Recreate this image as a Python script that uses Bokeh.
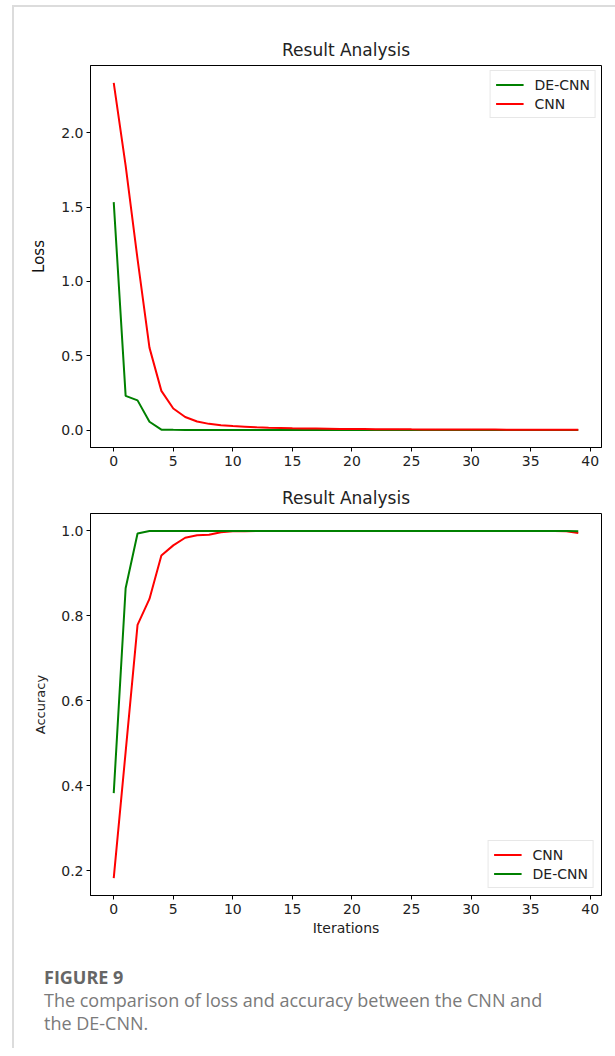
from bokeh.plotting import figure
from bokeh.layouts import column
from bokeh.models import Range1d, FixedTicker, PrintfTickFormatter, Legend, LegendItem, Div
from bokeh.embed import file_html
from bokeh.resources import INLINE

iterations = list(range(40))

cnn_loss = [2.336, 1.78, 1.15, 0.555, 0.264, 0.145, 0.088, 0.058, 0.042, 0.033,
            0.027, 0.023, 0.019, 0.016, 0.014, 0.012, 0.011, 0.010, 0.009, 0.008,
            0.0075, 0.007, 0.0065, 0.006, 0.0055, 0.005, 0.0048, 0.0045, 0.0043, 0.004,
            0.0038, 0.0036, 0.0034, 0.0032, 0.003, 0.0029, 0.0028, 0.0027, 0.0026, 0.0025]
decnn_loss = [1.534, 0.23, 0.20, 0.056, 0.003, 0.002, 0.0015, 0.0012, 0.001, 0.0009,
              0.0008, 0.0007, 0.0007, 0.0006, 0.0006, 0.0005, 0.0005, 0.0005, 0.0004, 0.0004,
              0.0004, 0.0004, 0.0003, 0.0003, 0.0003, 0.0003, 0.0003, 0.0003, 0.0002, 0.0002,
              0.0002, 0.0002, 0.0002, 0.0002, 0.0002, 0.0002, 0.0002, 0.0002, 0.0002, 0.0002]

cnn_acc = [0.183, 0.48, 0.779, 0.84, 0.942, 0.966, 0.984, 0.990, 0.991, 0.997,
           0.999, 0.999, 1.0, 1.0, 1.0, 1.0, 1.0, 1.0, 1.0, 1.0,
           1.0, 1.0, 1.0, 1.0, 1.0, 1.0, 1.0, 1.0, 1.0, 1.0,
           1.0, 1.0, 1.0, 1.0, 1.0, 1.0, 1.0, 1.0, 0.999, 0.995]
decnn_acc = [0.383, 0.865, 0.994, 1.0, 1.0, 1.0, 1.0, 1.0, 1.0, 1.0,
             1.0, 1.0, 1.0, 1.0, 1.0, 1.0, 1.0, 1.0, 1.0, 1.0,
             1.0, 1.0, 1.0, 1.0, 1.0, 1.0, 1.0, 1.0, 1.0, 1.0,
             1.0, 1.0, 1.0, 1.0, 1.0, 1.0, 1.0, 1.0, 1.0, 0.999]

x_ticks = [0, 5, 10, 15, 20, 25, 30, 35, 40]
loss_ticks = [0.0, 0.5, 1.0, 1.5, 2.0]
acc_ticks = [0.2, 0.4, 0.6, 0.8, 1.0]

title_text = "Result Analysis"
caption_head = "FIGURE 9"
caption_lines = ["The comparison of loss and accuracy between the CNN and", "the DE-CNN."]

GREEN = "#008000"
RED = "#ff0000"
FONT = "DejaVu Sans"


def style(p, yticks):
    p.outline_line_color = "black"
    p.outline_line_width = 1
    p.xgrid.visible = False
    p.ygrid.visible = False
    p.title.text_font = FONT
    p.title.text_font_size = "17px"
    p.title.text_font_style = "normal"
    p.title.align = "center"
    p.title.text_color = "#222222"
    p.title.standoff = 11
    for ax in (p.xaxis[0], p.yaxis[0]):
        ax.axis_line_color = "black"
        ax.major_tick_line_color = "black"
        ax.major_tick_out = 4
        ax.major_tick_in = 0
        ax.minor_tick_line_color = None
        ax.major_label_text_font = FONT
        ax.major_label_text_font_size = "14px"
        ax.major_label_text_color = "#222222"
        ax.axis_label_text_font = FONT
        ax.axis_label_text_font_style = "normal"
        ax.axis_label_text_color = "#222222"
    p.xaxis.ticker = FixedTicker(ticks=x_ticks)
    p.yaxis.ticker = FixedTicker(ticks=yticks)
    p.yaxis.formatter = PrintfTickFormatter(format="%.1f")
    p.xaxis.major_label_standoff = 4
    p.yaxis.major_label_standoff = 3


# ---------- top: loss ----------
p1 = figure(width=601, height=473, output_backend="svg", toolbar_location=None,
            x_range=Range1d(-1.95, 40.95), y_range=Range1d(-0.117, 2.453),
            title=title_text, min_border_left=75, min_border_right=14,
            min_border_top=58, min_border_bottom=33)
style(p1, loss_ticks)
p1.yaxis.axis_label = "Loss"
p1.yaxis.axis_label_text_font_size = "15px"
p1.yaxis.axis_label_text_color = "#111111"
p1.yaxis.axis_label_standoff = 10
r1g = p1.line(iterations, decnn_loss, line_color=GREEN, line_width=2)
r1r = p1.line(iterations, cnn_loss, line_color=RED, line_width=2)
leg1 = Legend(items=[LegendItem(label="DE-CNN", renderers=[r1g]),
                     LegendItem(label="CNN", renderers=[r1r])],
              location="top_right", margin=5)
p1.add_layout(leg1)

# ---------- bottom: accuracy ----------
p2 = figure(width=601, height=465, output_backend="svg", toolbar_location=None,
            x_range=Range1d(-1.95, 40.95), y_range=Range1d(0.142, 1.041),
            title=title_text, min_border_left=76, min_border_right=11,
            min_border_top=32, min_border_bottom=50)
style(p2, acc_ticks)
p2.yaxis.axis_label = "Accuracy"
p2.yaxis.axis_label_text_font_size = "13px"
p2.yaxis.axis_label_standoff = 10
p2.xaxis.axis_label = "Iterations"
p2.xaxis.axis_label_text_font_size = "14px"
p2.xaxis.axis_label_standoff = 3
r2r = p2.line(iterations, cnn_acc, line_color=RED, line_width=2)
r2g = p2.line(iterations, decnn_acc, line_color=GREEN, line_width=2)
leg2 = Legend(items=[LegendItem(label="CNN", renderers=[r2r]),
                     LegendItem(label="DE-CNN", renderers=[r2g])],
              location="bottom_right", margin=7)
p2.add_layout(leg2)

for leg in (leg1, leg2):
    leg.label_text_font = FONT
    leg.label_text_font_size = "14px"
    leg.label_text_color = "#222222"
    leg.border_line_color = "#d0d0d0"
    leg.border_line_width = 1
    leg.glyph_width = 28
    leg.glyph_height = 17
    leg.label_standoff = 11
    leg.label_height = 17
    leg.spacing = 2
    leg.padding = 5
    leg.background_fill_alpha = 0.9

# ---------- caption ----------
cap_html = (
    '<div style="position:relative;width:601px;height:103px;font-family:\'Open Sans\';">'
    '<div style="position:absolute;left:30px;top:20px;font-size:18px;line-height:24px;'
    'font-weight:700;color:#666666;white-space:nowrap;">' + caption_head + '</div>'
    '<div style="position:absolute;left:30px;top:44px;font-size:18px;line-height:23px;'
    'color:#7a7a7a;white-space:nowrap;">' + "<br>".join(caption_lines) + '</div>'
    '</div>'
)
cap = Div(text=cap_html, width=601, height=103, margin=0)

layout = column(p1, p2, cap, margin=(5, 0, 0, 12),
                styles={"border-left": "2px solid #dcdcdc", "border-top": "2px solid #dcdcdc"})

open("out.html", "w").write(file_html(layout, INLINE))
